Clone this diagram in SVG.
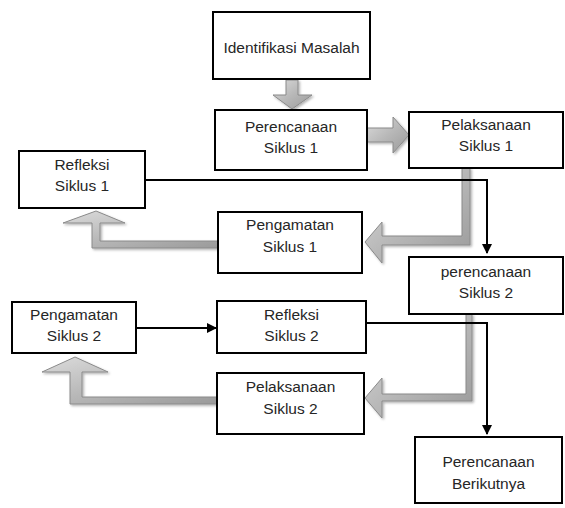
<svg xmlns="http://www.w3.org/2000/svg" width="565" height="508" viewBox="0 0 565 508">
<style>
.box{fill:#fff;stroke:#000;stroke-width:2}
.t{font-family:"Liberation Sans",Arial,sans-serif;font-size:15.5px;fill:#262626;text-anchor:middle}
.g{fill:url(#gr);stroke:#8a8a8a;stroke-width:1;filter:url(#sh)}
.c{fill:none;stroke:#000;stroke-width:2}
</style>
<defs>
<linearGradient id="gr" x1="0" y1="0" x2="1" y2="1">
<stop offset="0" stop-color="#dcdcdc"/>
<stop offset="0.5" stop-color="#b8b8b8"/>
<stop offset="1" stop-color="#9a9a9a"/>
</linearGradient>
<filter id="sh" x="-20%" y="-20%" width="140%" height="140%">
<feDropShadow dx="1.5" dy="1.5" stdDeviation="1" flood-color="#000" flood-opacity="0.3"/>
</filter>
<marker id="ah" markerWidth="10" markerHeight="10" refX="9" refY="5" orient="auto" markerUnits="userSpaceOnUse">
<path d="M0,0 L10,5 L0,10 Z" fill="#000"/>
</marker>
</defs>
<g id="connectors">
<polygon class="g" points="286,80 298,80 298,95 312,95 292,109 273,95 286,95"/>
<polygon class="g" points="367,128 393,128 393,117 409,135 393,153 393,142 367,142"/>
<polygon class="g" points="462,168 470,168 470,245 382,245 382,263 365,242 382,222 382,236 462,236"/>
<polygon class="g" points="218,241 218,248 92,248 92,223 63,223 96,211 125,223 100,223 100,241"/>
<polygon class="g" points="466,314 472,314 472,401 382,401 382,418 365,398 382,378 382,394 466,394"/>
<polygon class="g" points="217,397 217,404 70,404 70,372 42,372 75,357 108,372 82,372 82,397"/>
<path class="c" d="M145,180 H487 V253" marker-end="url(#ah)"/>
<path class="c" d="M366,323 H487 V434" marker-end="url(#ah)"/>
<path class="c" d="M136,328 H216" marker-end="url(#ah)"/>
</g>
<g id="identifikasi">
<rect class="box" x="213" y="12" width="157" height="67"/>
<text class="t" x="291.5" y="53">Identifikasi Masalah</text>
</g>
<g id="perencanaan1">
<rect class="box" x="215" y="110" width="152" height="60"/>
<text class="t" x="291" y="132">Perencanaan</text>
<text class="t" x="291" y="153">Siklus 1</text>
</g>
<g id="pelaksanaan1">
<rect class="box" x="409" y="112" width="154" height="56"/>
<text class="t" x="486" y="130">Pelaksanaan</text>
<text class="t" x="486" y="151">Siklus 1</text>
</g>
<g id="refleksi1">
<rect class="box" x="19" y="151" width="126" height="57"/>
<text class="t" x="82" y="170">Refleksi</text>
<text class="t" x="82" y="191">Siklus 1</text>
</g>
<g id="pengamatan1">
<rect class="box" x="218" y="212" width="144" height="61"/>
<text class="t" x="290" y="230">Pengamatan</text>
<text class="t" x="290" y="252">Siklus 1</text>
</g>
<g id="perencanaan2">
<rect class="box" x="409" y="257" width="154" height="57"/>
<text class="t" x="486" y="277">perencanaan</text>
<text class="t" x="486" y="298">Siklus 2</text>
</g>
<g id="pengamatan2">
<rect class="box" x="12" y="302" width="124" height="51"/>
<text class="t" x="74" y="320">Pengamatan</text>
<text class="t" x="74" y="341">Siklus 2</text>
</g>
<g id="refleksi2">
<rect class="box" x="217" y="301" width="149" height="52"/>
<text class="t" x="291.5" y="320">Refleksi</text>
<text class="t" x="291.5" y="341">Siklus 2</text>
</g>
<g id="pelaksanaan2">
<rect class="box" x="217" y="373" width="147" height="61"/>
<text class="t" x="290.5" y="392">Pelaksanaan</text>
<text class="t" x="290.5" y="414">Siklus 2</text>
</g>
<g id="berikutnya">
<rect class="box" x="415" y="437" width="147" height="66"/>
<text class="t" x="488.5" y="467">Perencanaan</text>
<text class="t" x="488.5" y="489">Berikutnya</text>
</g>
</svg>
